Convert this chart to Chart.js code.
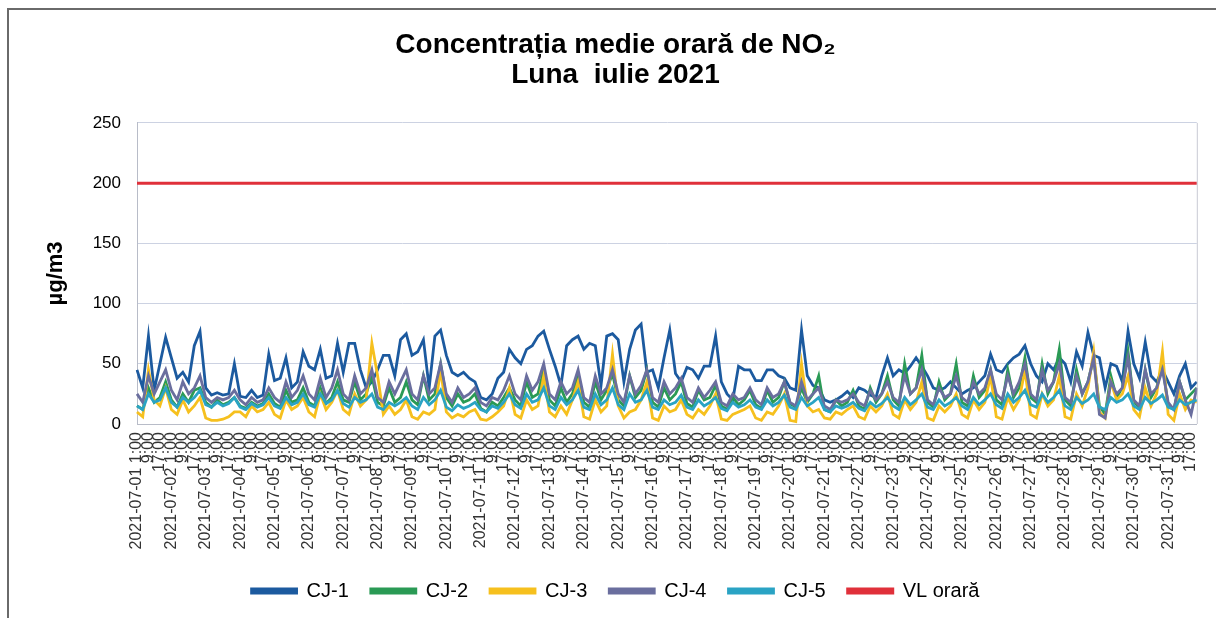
<!DOCTYPE html>
<html>
<head>
<meta charset="utf-8">
<script src="https://cdn.jsdelivr.net/npm/chart.js@4"></script>
<style>
  html, body { margin: 0; padding: 0; background: #fff; }
  #wrap { width: 1216px; height: 618px; }
</style>
</head>
<body>
<div id="wrap"><canvas id="no2Chart" width="1216" height="618"></canvas></div>
<script>
// zilele lunii si orele (pas de 4 ore)
const days = ['2021-07-01','2021-07-02','2021-07-03','2021-07-04','2021-07-05','2021-07-06','2021-07-07','2021-07-08',
  '2021-07-09','2021-07-10','2021-07-11','2021-07-12','2021-07-13','2021-07-14','2021-07-15','2021-07-16',
  '2021-07-17','2021-07-18','2021-07-19','2021-07-20','2021-07-21','2021-07-22','2021-07-23','2021-07-24',
  '2021-07-25','2021-07-26','2021-07-27','2021-07-28','2021-07-29','2021-07-30','2021-07-31'];
const hours = ['1:00','5:00','9:00','13:00','17:00','21:00'];
const shownHours = ['1:00','9:00','17:00'];

const cj1 = [
  45,30,73,28,50,72, 55,38,43,35,65,77,
  30,24,26,24,25,50, 23,22,28,22,24,58,
  36,38,55,30,35,60, 48,45,62,38,40,67,
  43,67,67,45,30,35, 45,57,57,40,70,75,
  57,60,70,30,73,78, 57,43,40,43,38,35,
  22,20,25,38,43,62, 55,50,62,65,73,77,
  62,48,32,65,70,73, 62,67,65,32,73,75,
  70,35,62,78,83,43, 45,30,55,78,42,35,
  47,45,38,48,48,73, 35,25,20,48,45,45,
  36,36,45,45,40,38, 30,28,78,40,32,30,
  20,18,20,23,27,22, 30,28,24,22,40,55,
  40,45,42,48,55,48, 40,30,28,30,35,30,
  25,28,30,35,40,58, 45,43,50,55,58,65,
  50,40,35,50,45,55, 50,35,60,48,76,57,
  55,30,50,48,35,77, 50,38,68,40,35,45,
  35,25,40,50,30,35
];
const cj2 = [
  15,12,30,18,22,35, 20,14,25,18,28,30,
  18,14,20,16,18,22, 15,13,18,15,17,25,
  17,14,28,18,20,30, 18,15,30,17,22,35,
  20,18,35,20,25,40, 18,15,30,18,22,35,
  20,16,40,20,25,50, 22,15,25,18,20,25,
  13,10,18,15,22,30, 20,15,35,22,25,45,
  20,15,30,18,25,40, 18,14,35,20,28,42,
  20,15,40,22,28,45, 18,14,30,20,25,35,
  17,14,28,20,22,32, 15,12,22,16,20,28,
  16,13,28,18,22,35, 17,14,30,18,25,40,
  12,10,20,15,18,28, 15,12,30,18,25,40,
  20,15,50,25,30,57, 18,14,35,20,25,50,
  18,15,40,22,28,45, 20,16,45,22,30,55,
  22,18,50,25,35,62, 20,15,45,25,35,55,
  15,8,40,22,30,60,  18,14,45,22,30,50,
  15,12,35,20,25,30
];
const cj3 = [
  10,6,45,20,15,30, 12,8,20,10,15,22,
  5,3,3,4,6,10,     10,6,15,10,12,18,
  8,5,20,12,15,22,  10,6,25,12,18,28,
  12,8,25,15,20,67, 40,8,15,8,12,20,
  6,4,10,8,12,45,   10,5,8,6,10,12,
  4,3,6,10,15,30,   8,5,20,12,15,40,
  10,6,15,8,20,35,  6,4,20,10,15,58,
  15,5,10,12,20,35, 5,3,15,10,12,20,
  8,5,12,8,15,25,   4,3,8,10,12,15,
  5,3,10,8,15,25,   3,2,50,15,10,12,
  5,4,10,8,12,15,   6,4,15,10,15,25,
  8,5,20,12,18,35,  5,3,15,10,15,25,
  8,5,20,12,18,40,  6,4,22,12,20,45,
  8,5,25,15,20,40,  6,4,25,15,30,60,
  10,5,35,20,25,40, 12,6,30,15,25,60,
  8,3,25,12,20,18
];
const cj4 = [
  25,18,40,25,35,45, 28,20,35,25,30,40,
  22,18,22,20,22,28, 20,16,22,18,20,30,
  22,18,35,22,28,40, 25,20,38,22,30,45,
  25,20,40,25,30,45, 22,18,35,25,35,45,
  25,20,40,25,30,50, 25,18,30,22,25,30,
  18,15,22,20,28,40, 25,20,40,28,35,50,
  25,20,35,25,30,45, 22,18,40,25,30,45,
  25,18,40,25,32,45, 22,18,35,25,30,38,
  22,18,30,22,28,35, 18,15,25,20,22,30,
  20,16,30,22,25,35, 18,15,35,20,25,30,
  15,12,20,18,20,25, 18,15,28,20,25,35,
  22,18,40,25,30,45, 20,16,30,22,25,40,
  22,18,35,25,30,45, 25,20,40,25,35,50,
  25,20,45,28,35,50, 22,18,40,25,35,55,
  8,5,35,25,30,55,   20,15,45,25,30,45,
  18,12,35,20,8,30
];
const cj5 = [
  15,12,25,18,20,30, 18,14,22,18,22,28,
  16,14,18,15,17,22, 14,12,17,14,16,22,
  15,13,22,16,18,25, 16,14,25,17,20,28,
  17,14,22,18,20,25, 14,12,18,15,18,22,
  15,12,22,16,20,28, 14,11,16,13,15,18,
  12,10,15,13,18,25, 16,13,25,18,20,30,
  15,12,22,16,20,28, 14,12,25,16,20,30,
  16,12,25,18,20,28, 14,12,20,16,18,24,
  14,12,20,15,18,22, 13,11,18,14,16,20,
  14,12,20,15,18,24, 14,12,22,15,18,22,
  12,10,15,13,15,18, 13,11,18,14,17,22,
  15,12,22,16,20,25, 14,12,20,15,18,22,
  15,12,22,16,20,25, 16,13,25,18,22,28,
  16,14,25,18,22,28, 15,12,22,17,20,25,
  14,12,22,18,20,25, 15,12,22,17,20,24,
  14,12,20,16,18,20
];
// valoarea limita orara (inceput si sfarsit de luna)
const vlOrara = [200, 200];
const yTicks = [0, 50, 100, 150, 200, 250];

const labels = days.flatMap(d => hours.map(h => d + ' ' + h));

const framePlugin = {
  id: 'frame',
  beforeDraw(chart) {
    const c = chart.ctx;
    c.save();
    c.strokeStyle = '#6a6a6a';
    c.lineWidth = 2;
    c.beginPath();
    c.moveTo(8, 618);
    c.lineTo(8, 9);
    c.lineTo(1216, 9);
    c.stroke();
    c.restore();
  },
  afterDraw(chart) {
    const a = chart.chartArea;
    const c = chart.ctx;
    c.save();
    c.strokeStyle = '#c8cad4';
    c.lineWidth = 1;
    c.beginPath();
    c.moveTo(a.right + 0.5, a.top);
    c.lineTo(a.right + 0.5, a.bottom);
    c.stroke();
    c.restore();
  }
};

function ds(label, data, color, order) {
  return {
    label: label,
    data: data,
    borderColor: color,
    backgroundColor: color,
    borderWidth: 2.8,
    pointRadius: 0,
    tension: 0,
    order: order
  };
}

new Chart(document.getElementById('no2Chart'), {
  type: 'line',
  data: {
    labels: labels,
    datasets: [
      ds('CJ-1', cj1, '#1c5a9f', 5),
      ds('CJ-2', cj2, '#2a9a55', 4),
      ds('CJ-3', cj3, '#f6c01e', 3),
      ds('CJ-4', cj4, '#6a6e9e', 2),
      ds('CJ-5', cj5, '#2aa3c4', 1),
      Object.assign(ds('VL orară', [
        { x: labels[0], y: vlOrara[0] },
        { x: labels[labels.length - 1], y: vlOrara[1] }
      ], '#e0303a', 0), { borderWidth: 3 })
    ]
  },
  options: {
    responsive: false,
    animation: false,
    layout: { padding: { left: 10, right: -5, top: 0, bottom: 7 } },
    plugins: {
      title: {
        display: true,
        text: ['Concentrația medie orară de NO₂', 'Luna  iulie 2021'],
        color: '#000',
        font: { family: 'Liberation Sans, Arial, sans-serif', size: 28, weight: 'bold', lineHeight: 1.07 },
        padding: { top: 30, bottom: 33 }
      },
      legend: {
        position: 'bottom',
        labels: {
          boxWidth: 45,
          boxHeight: 4,
          padding: 22,
          color: '#000',
          font: { family: 'Liberation Sans, Arial, sans-serif', size: 20 },
          sort: (a, b) => a.datasetIndex - b.datasetIndex
        }
      },
      tooltip: { enabled: false }
    },
    scales: {
      x: {
        type: 'category',
        grid: { display: false },
        border: { display: true, color: '#b8bcc8' },
        ticks: {
          autoSkip: false,
          minRotation: 90,
          maxRotation: 90,
          padding: 0,
          color: '#333',
          font: { family: 'Liberation Sans, Arial, sans-serif', size: 16 },
          callback: function(value, index) {
            const [d, h] = labels[index].split(' ');
            if (h === shownHours[0]) return d + ' ' + h;
            if (shownHours.includes(h)) return h;
            return '';
          }
        },
        afterFit: function(scale) { scale.height = 135; }
      },
      y: {
        min: yTicks[0],
        max: yTicks[yTicks.length - 1],
        afterBuildTicks: function(scale) { scale.ticks = yTicks.map(v => ({ value: v })); },
        grid: { color: '#ccd2e2', lineWidth: 1, drawTicks: false },
        border: { display: true, color: '#b8bcc8' },
        ticks: {
          padding: 16,
          color: '#000',
          font: { family: 'Liberation Sans, Arial, sans-serif', size: 17 }
        },
        title: {
          display: true,
          text: 'µg/m3',
          color: '#000',
          font: { family: 'Liberation Sans, Arial, sans-serif', size: 22, weight: 'bold' },
          padding: { top: 33, bottom: 33 }
        },
        afterFit: function(scale) { scale.width = 127; }
      }
    }
  },
  plugins: [framePlugin]
});
</script>
</body>
</html>
